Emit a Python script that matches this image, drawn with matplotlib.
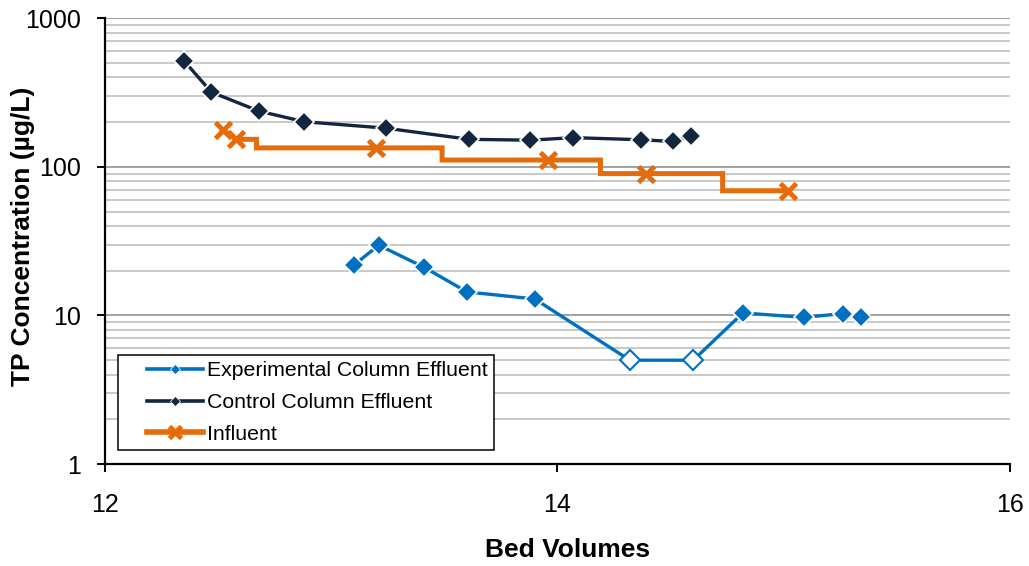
import matplotlib
matplotlib.use("Agg")
import matplotlib.pyplot as plt
from matplotlib.lines import Line2D
from matplotlib.legend_handler import HandlerLine2D
from matplotlib.ticker import FixedLocator, LogLocator, NullFormatter

plt.rcParams['font.family'] = ['Liberation Sans', 'DejaVu Sans']

# experimental column effluent (open markers = below detection, plotted at 5)
exp_bv = [13.10, 13.21, 13.41, 13.60, 13.90, 14.32, 14.60, 14.82, 15.09, 15.26, 15.34]
exp_tp = [21.8, 29.7, 21.1, 14.4, 12.9, 5.0, 5.0, 10.4, 9.7, 10.3, 9.8]
exp_open = [False, False, False, False, False, True, True, False, False, False, False]

# control column effluent
ctl_bv = [12.35, 12.47, 12.68, 12.88, 13.24, 13.61, 13.88, 14.07, 14.37, 14.51, 14.59]
ctl_tp = [515, 318, 237, 201, 182, 153, 151, 157, 152, 148, 160]

# influent samples
inf_bv = [12.52, 12.58, 13.20, 13.96, 14.39, 15.02]
inf_tp = [177, 153, 134, 111, 90, 69]
# influent concentration held as a step until the next batch
step_bv = [12.52, 12.58, 12.67, 12.67, 13.49, 13.49, 14.19, 14.19, 14.73, 14.73, 15.02]
step_tp = [177, 153, 153, 134, 134, 111, 111, 90, 90, 69, 69]

blue = "#0070C0"
navy = "#12263F"
orange = "#E46C0A"


class ShortLine(HandlerLine2D):
    # legend line drawn only in the right part of the handle box (Excel look)
    def get_xdata(self, legend, xdescent, ydescent, width, height, fontsize):
        x0 = -xdescent + 0.29 * width
        x1 = -xdescent + width
        return [x0, x1], [(x0 + x1) / 2]


fig = plt.figure(figsize=(10.29, 5.66), dpi=100)
ax = fig.add_axes([0.102, 0.18, 0.8795, 0.788])

ax.plot(step_bv, step_tp, color=orange, lw=3.6, zorder=3, solid_joinstyle='miter')
ax.plot(inf_bv, inf_tp, ls='none', marker='x', ms=11, mew=3.5, color=orange, zorder=4)

ax.plot(ctl_bv, ctl_tp, color=navy, lw=2.4, marker='D', ms=10.5,
        mfc=navy, mec='white', mew=1.2, zorder=5)

ax.plot(exp_bv, exp_tp, color=blue, lw=2.4, zorder=5)
for x, y, o in zip(exp_bv, exp_tp, exp_open):
    ax.plot([x], [y], ls='none', marker='D', ms=10.5,
            mfc='white' if o else blue, mec=blue if o else 'white',
            mew=1.5 if o else 1.2, zorder=6)

ax.set_yscale('log')
ax.set_ylim(1, 1000)
ax.set_xlim(12, 16)
ax.xaxis.set_major_locator(FixedLocator([12, 14, 16]))
ax.yaxis.set_major_locator(FixedLocator([1, 10, 100, 1000]))
ax.set_yticklabels(['1', '10', '100', '1000'])
ax.yaxis.set_minor_locator(LogLocator(base=10, subs=range(2, 10)))
ax.yaxis.set_minor_formatter(NullFormatter())

ax.grid(True, which='major', axis='y', color='#9A9A9A', lw=1.3)
ax.grid(True, which='minor', axis='y', color='#C4C4C4', lw=1.3)
ax.set_axisbelow(True)

for s in ['top', 'right']:
    ax.spines[s].set_visible(False)
ax.spines['left'].set_linewidth(1.6)
ax.spines['bottom'].set_linewidth(1.6)
ax.tick_params(axis='both', which='major', labelsize=18, length=6, width=1.4, direction='out')
ax.tick_params(axis='y', which='minor', length=0)
ax.tick_params(axis='x', pad=15)
ax.tick_params(axis='y', pad=11)

ax.set_xlabel('Bed Volumes', fontsize=19, fontweight='bold')
ax.set_ylabel('TP Concentration (µg/L)', fontsize=19, fontweight='bold')
ax.xaxis.set_label_coords(0.511, -0.166)
ax.yaxis.set_label_coords(-0.077, 0.51)

handles = [
    Line2D([], [], color=blue, lw=2.6, marker='D', ms=5, mfc=blue, mec='white', mew=0.5),
    Line2D([], [], color=navy, lw=2.6, marker='D', ms=5, mfc=navy, mec='white', mew=0.5),
    Line2D([], [], color=orange, lw=4, marker='x', ms=8, mew=3.5),
]
leg = ax.legend(handles, ['Experimental Column Effluent', 'Control Column Effluent', 'Influent'],
                loc='lower left', bbox_to_anchor=(0.0144, 0.031), borderaxespad=0,
                fontsize=15.3, frameon=True, fancybox=False, edgecolor='black', framealpha=1,
                handlelength=3.7, handletextpad=0.2, borderpad=0.3, labelspacing=0.6,
                handler_map={Line2D: ShortLine(numpoints=1)})
leg.get_frame().set_linewidth(1.1)

fig.savefig('out.png', dpi=100)
